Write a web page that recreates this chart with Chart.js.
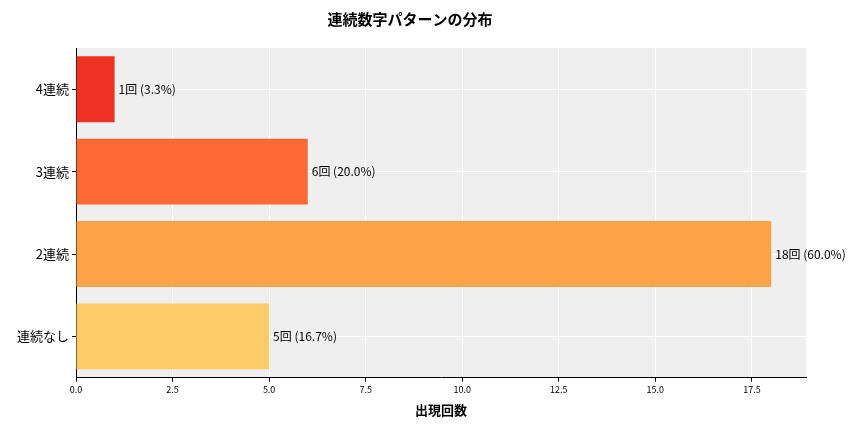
<!DOCTYPE html>
<html><head><meta charset="utf-8">
<script src="https://cdn.jsdelivr.net/npm/chart.js@4"></script>
<style>body{margin:0;background:#fff}#wrap{width:864px;height:432px}</style>
</head><body><div id="wrap"><canvas id="c"></canvas></div>
<script>
const categories = ['4連続', '3連続', '2連続', '連続なし'];
const counts = [1, 6, 18, 5];
const percents = [3.3, 20.0, 60.0, 16.7];
const colors = ['#f03225', '#fe6a35', '#fea448', '#fecc67'];
const FONT = '"Noto Sans CJK JP", "Noto Sans", sans-serif';

const bgPlugin = {
  id: 'bg',
  beforeDraw(chart) {
    const a = chart.chartArea, ctx = chart.ctx;
    ctx.save(); ctx.fillStyle = '#efefef';
    ctx.fillRect(a.left, a.top, a.right - a.left, a.bottom - a.top);
    ctx.restore();
  }
};
const labelPlugin = {
  id: 'labels',
  afterDatasetsDraw(chart) {
    const ctx = chart.ctx;
    ctx.save(); ctx.font = '12px ' + FONT; ctx.fillStyle = '#000';
    ctx.textBaseline = 'middle';
    chart.getDatasetMeta(0).data.forEach((b, i) => {
      ctx.fillText(counts[i] + '回 (' + percents[i].toFixed(1) + '%)', b.x + 4, b.y);
    });
    ctx.restore();
  }
};

new Chart(document.getElementById('c'), {
  type: 'bar',
  data: { labels: categories, datasets: [{ data: counts, backgroundColor: colors, categoryPercentage: 1, barPercentage: 0.8 }] },
  options: {
    indexAxis: 'y', responsive: true, maintainAspectRatio: false, animation: false,
    layout: { padding: { left: 14, right: 58, top: 0, bottom: 10 } },
    plugins: {
      legend: { display: false }, tooltip: { enabled: false },
      title: { display: true, text: '連続数字パターンの分布', font: { family: FONT, size: 15, weight: 'bold' }, color: '#000', padding: { top: 10, bottom: 20 } }
    },
    scales: {
      x: { min: 0, max: 18.9,
           afterBuildTicks: s => { s.ticks = s.ticks.filter(t => t.value % 2.5 === 0); },
           ticks: { stepSize: 2.5, color: '#000', font: { family: FONT, size: 9 }, callback: v => v.toFixed(1) },
           grid: { color: '#fff', drawTicks: true, tickColor: '#000', tickLength: 4 }, border: { color: '#000' },
           title: { display: true, text: '出現回数', color: '#000', font: { family: FONT, size: 13, weight: 'bold' } } },
      y: { ticks: { color: '#000', font: { family: FONT, size: 13 } },
           grid: { offset: false, color: '#fff', tickColor: '#000', tickLength: 4 }, border: { color: '#000' } }
    }
  },
  plugins: [bgPlugin, labelPlugin]
});
</script></body></html>
